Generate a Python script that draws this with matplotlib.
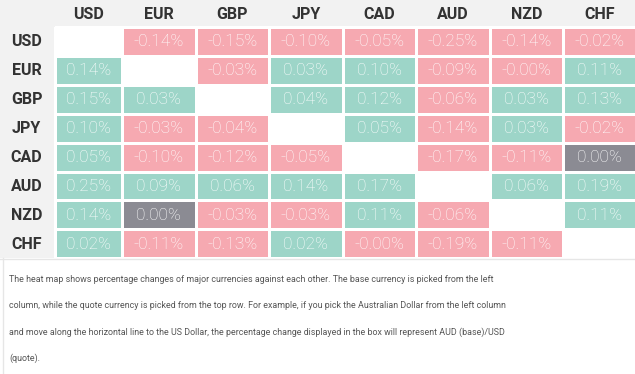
import numpy as np
import matplotlib
matplotlib.use("Agg")
import matplotlib.pyplot as plt

currencies = ["USD", "EUR", "GBP", "JPY", "CAD", "AUD", "NZD", "CHF"]

# row = base currency, col = quote currency, in percent (-0.0 means "-0.00%")
usd = [np.nan, -0.14, -0.15, -0.10, -0.05, -0.25, -0.14, -0.02]
eur = [0.14, np.nan, -0.03, 0.03, 0.10, -0.09, -0.0, 0.11]
gbp = [0.15, 0.03, np.nan, 0.04, 0.12, -0.06, 0.03, 0.13]
jpy = [0.10, -0.03, -0.04, np.nan, 0.05, -0.14, 0.03, -0.02]
cad = [0.05, -0.10, -0.12, -0.05, np.nan, -0.17, -0.11, 0.0]
aud = [0.25, 0.09, 0.06, 0.14, 0.17, np.nan, 0.06, 0.19]
nzd = [0.14, 0.0, -0.03, -0.03, 0.11, -0.06, np.nan, 0.11]
chf = [0.02, -0.11, -0.13, 0.02, -0.0, -0.19, -0.11, np.nan]

note_lines = [
    "The heat map shows percentage changes of major currencies against each other. "
    "The base currency is picked from the left",
    "column, while the quote currency is picked from the top row. For example, "
    "if you pick the Australian Dollar from the left column",
    "and move along the horizontal line to the US Dollar, the percentage change "
    "displayed in the box will represent AUD (base)/USD",
    "(quote).",
]

values = np.array([usd, eur, gbp, jpy, cad, aud, nzd, chf])

GREEN = "#9dd5c8"
PINK = "#f6a9b1"
GREY = "#8b8b93"
HEAD_BG = "#f2f2f2"
LABEL_C = "#333333"

plt.rcParams["font.family"] = ["Roboto", "DejaVu Sans"]

W, H = 635, 374
fig = plt.figure(figsize=(W / 100, H / 100), dpi=100)
ax = fig.add_axes([0, 0, 1, 1])
ax.set_xlim(0, W)
ax.set_ylim(H, 0)
ax.axis("off")

# layout in pixels
label_w = 55
top_h = 27
first_w = 67
cell_w = 73.5
cell_h = 28.9
n = len(currencies)
x_edges = np.concatenate([[label_w], label_w + first_w + cell_w * np.arange(n)])
y_edges = top_h + cell_h * np.arange(n + 1)
table_bottom = y_edges[-1]

# header band + label column background
ax.add_patch(plt.Rectangle((0, 0), W, top_h, color=HEAD_BG, lw=0))
ax.add_patch(plt.Rectangle((0, 0), label_w, table_bottom, color=HEAD_BG, lw=0))

# cell colours
rgb = np.ones((n, n, 3))
for i in range(n):
    for j in range(n):
        v = values[i, j]
        if np.isnan(v):
            c = "#ffffff"
        elif v == 0 and not np.signbit(v):
            c = GREY
        elif v < 0 or np.signbit(v):
            c = PINK
        else:
            c = GREEN
        rgb[i, j] = matplotlib.colors.to_rgb(c)

ax.pcolormesh(x_edges, y_edges, rgb, edgecolors="white", linewidth=0.75)

xc = (x_edges[:-1] + x_edges[1:]) / 2
yc = (y_edges[:-1] + y_edges[1:]) / 2

for j, cur in enumerate(currencies):
    ax.text(xc[j], top_h / 2 + 0.5, cur, ha="center", va="center",
            fontsize=11.5, fontweight="bold", color=LABEL_C)
for i, cur in enumerate(currencies):
    ax.text(label_w / 2 - 1, yc[i] + 0.5, cur, ha="center", va="center",
            fontsize=11.5, fontweight="bold", color=LABEL_C)

for i in range(n):
    for j in range(n):
        v = values[i, j]
        if np.isnan(v):
            continue
        ax.text(xc[j], yc[i] + 0.5, f"{v:.2f}%", ha="center", va="center",
                fontsize=12.5, fontweight="light", color="white")

# note box borders
ax.plot([0, W], [table_bottom + 0.5, table_bottom + 0.5], color="#e6e6e6", lw=1)
ax.plot([2.5, 2.5], [table_bottom, H], color="#e6e6e6", lw=1)

for k, line in enumerate(note_lines):
    ax.text(9, 280 + 26 * k, line, ha="left", va="center", fontsize=6.4,
            color="#555555")

fig.savefig("out.png", dpi=100)
